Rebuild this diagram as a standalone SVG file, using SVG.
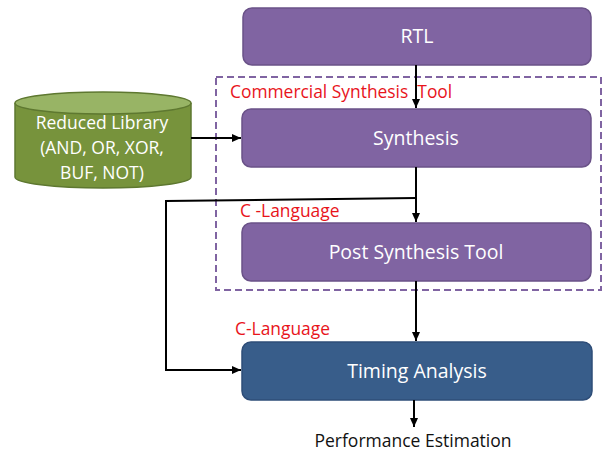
<svg xmlns="http://www.w3.org/2000/svg" width="605" height="451" viewBox="0 0 605 451">
<defs>
<style>
.box{fill:#8064A2;stroke:#6A5288;stroke-width:1.5}
.blue{fill:#385D8A;stroke:#2E4D78;stroke-width:1.5}
.nt{fill:#fff;font-family:"Open Sans","Liberation Sans",sans-serif;font-size:19.5px;text-anchor:middle}
.ct{fill:#fff;font-family:"Open Sans","Liberation Sans",sans-serif;font-size:17.5px;text-anchor:middle}
.red{fill:#E8141B;font-family:"Open Sans","Liberation Sans",sans-serif;font-size:17.4px}
.ln{stroke:#000;stroke-width:2;fill:none}
</style>
<marker id="ah" markerWidth="10" markerHeight="10" refX="9" refY="5" orient="auto" markerUnits="userSpaceOnUse">
<path d="M0,1 L9,5 L0,9 Z" fill="#000"/>
</marker>
</defs>
<rect width="605" height="451" fill="#fff"/>
<g id="container">
<rect x="216" y="77" width="385" height="213" fill="none" stroke="#8064A2" stroke-width="2" stroke-dasharray="7,4"/>
</g>
<g id="rtl">
<rect class="box" x="243" y="8" width="348" height="57" rx="9"/>
<text class="nt" x="417" y="43">RTL</text>
</g>
<g id="synthesis">
<rect class="box" x="242" y="109" width="349" height="58" rx="9"/>
<text class="nt" x="416" y="145">Synthesis</text>
</g>
<g id="post">
<rect class="box" x="242" y="223" width="349" height="58" rx="9"/>
<text class="nt" x="416" y="259">Post Synthesis Tool</text>
</g>
<g id="timing">
<rect class="blue" x="242" y="342" width="350" height="58" rx="9"/>
<text class="nt" x="417" y="378">Timing Analysis</text>
</g>
<g id="library">
<path d="M15,103 L15,177 A88,11 0 0 0 191,177 L191,103" fill="#77933C" stroke="#5E7830" stroke-width="1.5"/>
<ellipse cx="103" cy="103" rx="88" ry="11" fill="#98B465" stroke="#5E7830" stroke-width="1.5"/>
<text class="ct" x="102" y="129">Reduced Library</text>
<text class="ct" x="102" y="154">(AND, OR, XOR,</text>
<text class="ct" x="102" y="179">BUF, NOT)</text>
</g>
<g id="labels">
<text class="red" x="230" y="98" xml:space="preserve">Commercial Synthesis  Tool</text>
<text class="red" x="240" y="217">C -Language</text>
<text class="red" x="235" y="335">C-Language</text>
<text x="413" y="447" font-family="'Open Sans','Liberation Sans',sans-serif" font-size="17.5" text-anchor="middle" fill="#111">Performance Estimation</text>
</g>
<g id="connectors">
<line class="ln" x1="416" y1="65" x2="416" y2="108" marker-end="url(#ah)"/>
<line class="ln" x1="191" y1="138" x2="241" y2="138" marker-end="url(#ah)"/>
<line class="ln" x1="416" y1="167" x2="416" y2="222" marker-end="url(#ah)"/>
<polyline class="ln" points="416,198 166,201 166,370 241,370" marker-end="url(#ah)"/>
<line class="ln" x1="416" y1="281" x2="416" y2="341" marker-end="url(#ah)"/>
<line class="ln" x1="414" y1="400" x2="414" y2="427" marker-end="url(#ah)"/>
</g>
</svg>
